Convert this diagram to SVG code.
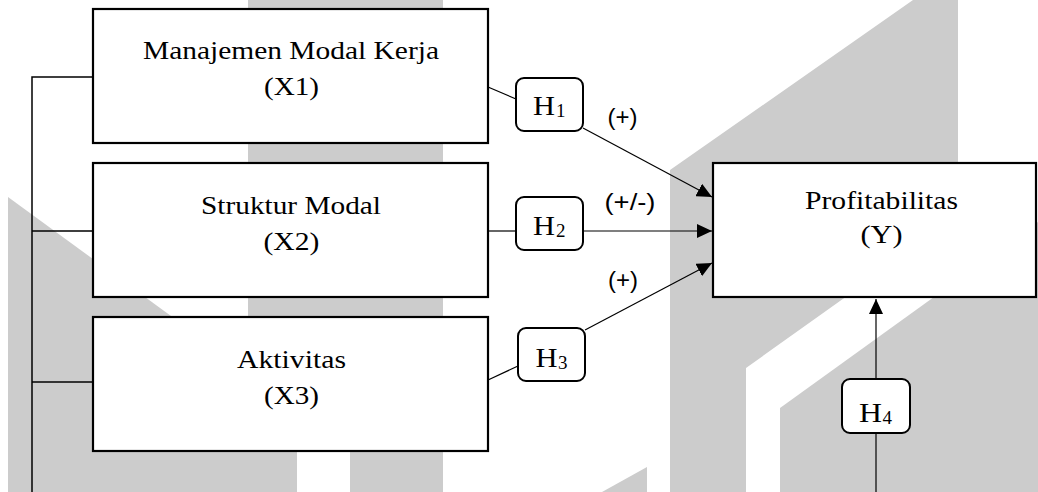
<svg xmlns="http://www.w3.org/2000/svg" width="1038" height="492" viewBox="0 0 1038 492">
<style>
.wm{fill:#cccccc}
.box{fill:#ffffff;stroke:#000000;stroke-width:2.2}
.hbox{fill:#ffffff;stroke:#000000;stroke-width:2}
.ln{stroke:#000000;stroke-width:1.2;fill:none}
.bus{stroke:#000000;stroke-width:1.5;fill:none}
</style>
<defs>
<marker id="arr" markerUnits="userSpaceOnUse" markerWidth="16" markerHeight="14" refX="15" refY="7" orient="auto">
<path d="M0,0 L15,7 L0,14 z" fill="#000000"/>
</marker>
</defs>
<rect x="0" y="0" width="1038" height="492" fill="#ffffff"/>
<g id="watermark" class="wm">
<rect x="248" y="0" width="102" height="440"/>
<rect x="350" y="0" width="93" height="492"/>
<polygon points="8,197 297,408 297,492 8,492"/>
<polygon points="670,492 670,170 913,0 958,0 958,217 746,368 746,492"/>
<polygon points="780,492 780,408 1038,222 1038,492"/>
<polygon points="647,467 647,492 602,492"/>
</g>
<g id="connectors">
<path class="bus" d="M32,492 V77 H93 M32,231 H93 M32,382 H93"/>
<line class="ln" x1="488" y1="87" x2="516" y2="99"/>
<line class="ln" x1="583" y1="128" x2="712" y2="197" marker-end="url(#arr)"/>
<line class="ln" x1="488" y1="231" x2="516" y2="231"/>
<line class="ln" x1="583" y1="231" x2="712" y2="231" marker-end="url(#arr)"/>
<line class="ln" x1="488" y1="380" x2="518" y2="366"/>
<line class="ln" x1="585" y1="330" x2="712" y2="263" marker-end="url(#arr)"/>
<line class="ln" x1="876" y1="492" x2="876" y2="433"/>
<line class="ln" x1="876" y1="379" x2="876" y2="299" marker-end="url(#arr)"/>
<g font-family="Liberation Sans, Arial, sans-serif" font-size="24" fill="#000000" text-anchor="middle">
<text x="622.5" y="125" textLength="30" lengthAdjust="spacingAndGlyphs">(+)</text>
<text x="630" y="210" textLength="51" lengthAdjust="spacingAndGlyphs">(+/-)</text>
<text x="623" y="288" textLength="30" lengthAdjust="spacingAndGlyphs">(+)</text>
</g>
</g>
<g font-family="Liberation Serif, Times New Roman, serif" font-size="25" fill="#000000">
<g id="X1">
<rect class="box" x="93" y="9" width="395" height="134"/>
<text x="291" y="59" text-anchor="middle" textLength="296" lengthAdjust="spacingAndGlyphs">Manajemen Modal Kerja</text>
<text x="291.5" y="95" text-anchor="middle" textLength="55" lengthAdjust="spacingAndGlyphs">(X1)</text>
</g>
<g id="X2">
<rect class="box" x="93" y="163" width="395" height="134"/>
<text x="291" y="214" text-anchor="middle" textLength="180" lengthAdjust="spacingAndGlyphs">Struktur Modal</text>
<text x="291.5" y="250" text-anchor="middle" textLength="56" lengthAdjust="spacingAndGlyphs">(X2)</text>
</g>
<g id="X3">
<rect class="box" x="93" y="317" width="395" height="134"/>
<text x="291.5" y="368" text-anchor="middle" textLength="109" lengthAdjust="spacingAndGlyphs">Aktivitas</text>
<text x="291.5" y="404" text-anchor="middle" textLength="55" lengthAdjust="spacingAndGlyphs">(X3)</text>
</g>
<g id="Y">
<rect class="box" x="713" y="163" width="323" height="134"/>
<text x="881.5" y="209" text-anchor="middle" textLength="153" lengthAdjust="spacingAndGlyphs">Profitabilitas</text>
<text x="881.5" y="243" text-anchor="middle" textLength="42" lengthAdjust="spacingAndGlyphs">(Y)</text>
</g>
<g id="H1">
<rect class="hbox" x="516" y="78" width="67" height="53" rx="8"/>
<text y="115" font-size="27"><tspan x="533" textLength="22" lengthAdjust="spacingAndGlyphs">H</tspan><tspan x="556" y="117" font-size="19">1</tspan></text>
</g>
<g id="H2">
<rect class="hbox" x="516" y="197" width="67" height="53" rx="8"/>
<text y="235" font-size="27"><tspan x="533" textLength="22" lengthAdjust="spacingAndGlyphs">H</tspan><tspan x="556" y="237" font-size="19">2</tspan></text>
</g>
<g id="H3">
<rect class="hbox" x="518" y="328" width="67" height="53" rx="8"/>
<text y="367" font-size="27"><tspan x="535.5" textLength="22" lengthAdjust="spacingAndGlyphs">H</tspan><tspan x="558" y="369" font-size="19">3</tspan></text>
</g>
<g id="H4">
<rect class="hbox" x="842" y="379" width="68" height="54" rx="8"/>
<text y="422" font-size="27"><tspan x="859" textLength="23" lengthAdjust="spacingAndGlyphs">H</tspan><tspan x="882.5" y="424" font-size="19">4</tspan></text>
</g>
</g>
</svg>
